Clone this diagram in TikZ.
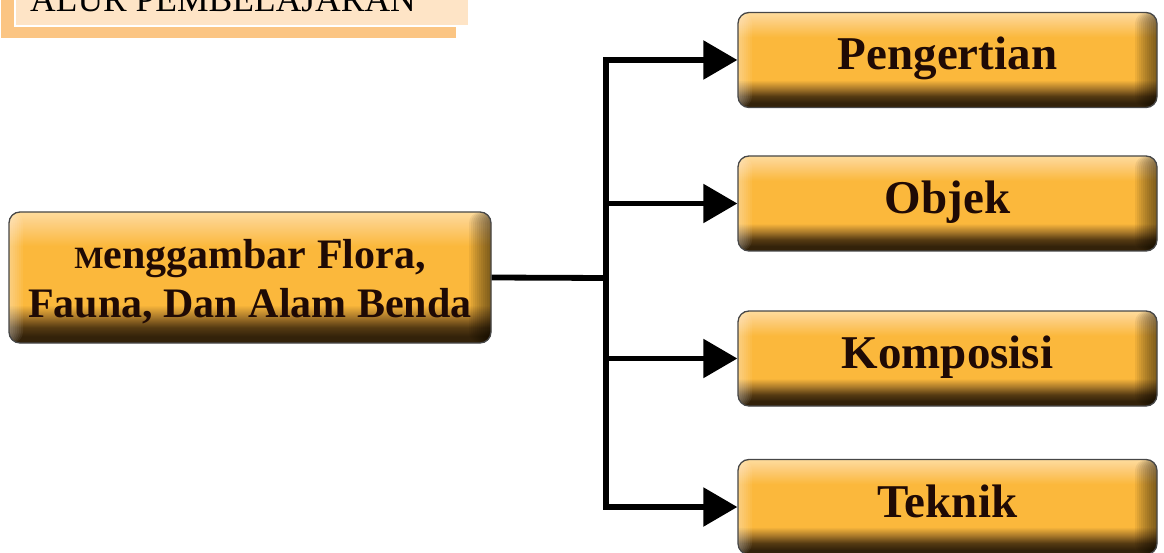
\documentclass[tikz,border=0pt]{standalone}
\usepackage{fontspec}
\setmainfont{Liberation Serif}
\usetikzlibrary{arrows.meta,calc}
\definecolor{dk}{HTML}{33220A}
\definecolor{dkb}{HTML}{553A12}
\definecolor{mdb}{HTML}{A8782A}
\definecolor{orb}{HTML}{FBB83C}
\definecolor{ltb}{HTML}{FDCF82}
\definecolor{ltc}{HTML}{FEDC9C}
\definecolor{txt}{HTML}{1F0A05}
\definecolor{peach}{HTML}{FEE4C6}
\definecolor{tang}{HTML}{FBC583}
\pgfdeclareverticalshading{btnshade}{100bp}{color(0bp)=(dk); color(25bp)=(dk); color(27.5bp)=(dk); color(31bp)=(dkb); color(35bp)=(mdb); color(39.5bp)=(orb); color(62bp)=(orb); color(71bp)=(ltb); color(75bp)=(ltc); color(100bp)=(ltc)}
\tikzset{
  btn/.style={rounded corners=11pt, draw=black!72, line width=1.3pt, shading=btnshade,
    text=txt, inner sep=0pt,
    path picture={
      \foreach \w in {2,4,...,22}
        \fill[black, fill opacity=0.055]
          ($(path picture bounding box.north east)+(-\w,0)$) rectangle (path picture bounding box.south east);
      \foreach \w in {2,4,...,14}
        \fill[white, fill opacity=0.06]
          (path picture bounding box.north west) rectangle ($(path picture bounding box.south west)+(\w,0)$);
    }},
  rbox/.style={btn, minimum width=419pt, minimum height=95pt,
    font=\bfseries\fontsize{47}{52}\selectfont, text height=26pt, text depth=6pt},
  conn/.style={line width=5.5pt, draw=black, -{Triangle[length=34pt 0 0, width=38pt 0 0]}},
  trunk/.style={line width=5.8pt, draw=black}
}
\begin{document}
\begin{tikzpicture}[x=1pt,y=-1pt]
\clip (0,0) rectangle (1164,553);
% title
\fill[tang] (1,-30) rectangle (456,38);
\fill[white] (14,-30) rectangle (470,27.5);
\fill[peach] (16,-30) rectangle (468,25);
\node[anchor=base west, inner sep=0pt, font=\fontsize{35.5}{40}\selectfont] (title) at (30,12) {ALUR PEMBELAJARAN};
% main box
\node[btn, minimum width=482pt, minimum height=131pt, align=center,
  font=\bfseries\fontsize{42}{49}\selectfont, text height=79pt, text depth=0pt] (main) at (250,277.5)
  {{\fontsize{31}{49}\selectfont M}enggambar Flora,\\Fauna, Dan Alam Benda};
% right boxes
\node[rbox] (p1) at (947.5,60) {Pengertian};
\node[rbox] (p2) at (947.5,203.5) {Objek};
\node[rbox] (p3) at (947.5,358.5) {Komposisi};
\node[rbox] (p4) at (947.5,507) {Teknik};
% connectors
\coordinate (j) at (606,278);
\draw[trunk] (main.east) -- (j);
\draw[conn] (j) |- (p1.west);
\draw[conn] (j) |- (p2.west);
\draw[conn] (j) |- (p3.west);
\draw[conn] (j) |- (p4.west);
\end{tikzpicture}
\end{document}
